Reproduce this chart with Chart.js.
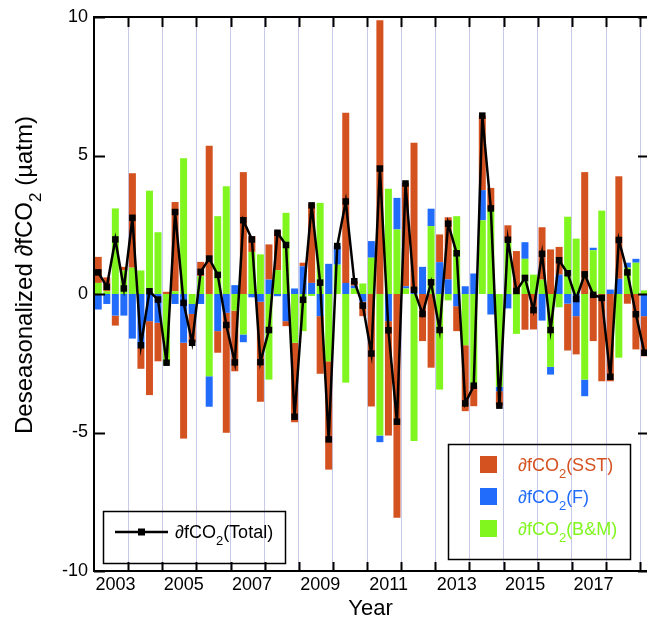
<!DOCTYPE html>
<html>
<head>
<meta charset="utf-8">
<script src="https://cdn.jsdelivr.net/npm/chart.js@4.4.0/dist/chart.umd.min.js"></script>
<style>
  html, body { margin: 0; padding: 0; background: #fff; }
  canvas { display: block; }
</style>
</head>
<body>
<canvas id="chart" width="647" height="625"></canvas>
<script>
// quarter mid-points (decimal year)
const quarters = [
  2002.125, 2002.375, 2002.625, 2002.875,
  2003.125, 2003.375, 2003.625, 2003.875,
  2004.125, 2004.375, 2004.625, 2004.875,
  2005.125, 2005.375, 2005.625, 2005.875,
  2006.125, 2006.375, 2006.625, 2006.875,
  2007.125, 2007.375, 2007.625, 2007.875,
  2008.125, 2008.375, 2008.625, 2008.875,
  2009.125, 2009.375, 2009.625, 2009.875,
  2010.125, 2010.375, 2010.625, 2010.875,
  2011.125, 2011.375, 2011.625, 2011.875,
  2012.125, 2012.375, 2012.625, 2012.875,
  2013.125, 2013.375, 2013.625, 2013.875,
  2014.125, 2014.375, 2014.625, 2014.875,
  2015.125, 2015.375, 2015.625, 2015.875,
  2016.125, 2016.375, 2016.625, 2016.875,
  2017.125, 2017.375, 2017.625, 2017.875,
  2018.125
];

const bioMix = [
  0.40, 0.10, 3.09, 0.85, 0.95, 0.85, 3.73, 2.23,
  -2.56, 0.10, 4.90, -0.36, 0.64, -2.97, 2.81, 3.89,
  -0.60, -1.46, 1.52, 1.43, -3.09, 0.86, 2.93, -1.76,
  -1.34, -0.07, 3.29, -2.43, 1.06, -3.20, 0.20, 0.38,
  1.31, -5.11, 3.80, 2.33, 0.20, -5.31, 0.00, 2.45,
  -3.45, -0.23, 2.81, -1.85, -3.30, 2.66, 3.05, -3.35,
  1.90, -1.44, 1.27, 0.70, 0.52, -2.63, -0.48, 2.79,
  2.00, -3.09, 1.58, 3.01, 0.00, -2.30, 0.95, 1.13,
  0.13
];

const flux = [
  -0.56, -0.36, -0.78, -0.78, -1.61, -1.94, -0.98, -1.04,
  0.00, -0.36, -1.76, -0.36, -0.36, -1.10, -1.34, -0.68,
  0.32, -0.28, -0.12, -0.28, 0.52, -0.08, -0.98, 0.20,
  1.00, 0.40, -0.80, 1.09, 0.67, 0.40, 0.10, -0.28,
  0.60, -0.24, -0.98, 1.14, 0.08, 0.10, 0.98, 0.63,
  1.15, 0.53, -0.44, 0.28, 0.74, 1.09, -0.74, -0.16,
  -0.52, 0.00, 0.60, 0.00, -0.96, -0.28, 0.70, -0.35,
  -0.80, -0.60, 0.09, 0.00, 0.16, 0.55, 0.18, 0.14,
  -0.80
];

const sst = [
  0.94, 0.50, -0.36, 0.13, 3.41, -0.76, -2.67, -1.39,
  0.08, 3.22, -3.46, -1.04, 0.52, 5.35, -0.78, -4.33,
  -2.19, 4.40, 0.57, -3.61, 1.27, 1.43, -0.18, -2.87,
  0.13, 2.87, -2.08, -3.91, 0.00, 6.14, 0.16, -0.52,
  -4.06, 9.88, -4.13, -8.08, 3.73, 5.36, -1.70, -2.66,
  1.00, 2.24, -0.90, -2.38, -0.75, 2.69, 0.78, -0.52,
  0.58, 1.55, -1.29, -1.28, 1.89, 1.61, 1.00, -1.69,
  -1.38, 4.40, -1.70, -3.15, -3.15, 3.70, -0.35, -2.00,
  -1.45
];

const total = [
  0.78, 0.26, 1.97, 0.20, 2.75, -1.85, 0.10, -0.20,
  -2.48, 2.96, -0.32, -1.76, 0.80, 1.28, 0.69, -1.12,
  -2.47, 2.66, 1.97, -2.46, -1.30, 2.21, 1.77, -4.43,
  -0.21, 3.20, 0.41, -5.25, 1.73, 3.34, 0.46, -0.42,
  -2.15, 4.53, -1.31, -4.61, 3.99, 0.15, -0.72, 0.42,
  -1.30, 2.54, 1.47, -3.95, -3.31, 6.44, 3.09, -4.03,
  1.96, 0.11, 0.58, -0.58, 1.45, -1.30, 1.22, 0.75,
  -0.18, 0.71, -0.03, -0.14, -2.99, 1.95, 0.78, -0.73,
  -2.12
];

const yearLabels = [2003, 2005, 2007, 2009, 2011, 2013, 2015, 2017];

const FONT = '"Liberation Sans", Arial, sans-serif';
const C_SST = 'rgb(212, 82, 32)';
const C_F = 'rgb(34, 108, 252)';
const C_BM = 'rgb(128, 246, 30)';

Chart.defaults.font.family = FONT;

const pts = arr => quarters.map((q, i) => ({ x: q, y: arr[i] }));

// draws text with the "₂" as a real subscript
function chemText(ctx, str, x, y, size, color) {
  const parts = str.split('₂');
  ctx.fillStyle = color;
  ctx.textBaseline = 'middle';
  ctx.textAlign = 'left';
  let cx = x;
  parts.forEach((p, i) => {
    ctx.font = size + 'px ' + FONT;
    ctx.fillText(p, cx, y);
    cx += ctx.measureText(p).width;
    if (i < parts.length - 1) {
      ctx.font = Math.round(size * 0.72) + 'px ' + FONT;
      ctx.fillText('2', cx, y + size * 0.48);
      cx += ctx.measureText('2').width;
    }
  });
  return cx - x;
}

function chemWidth(ctx, str, size) {
  const parts = str.split('₂');
  let w = 0;
  parts.forEach((p, i) => {
    ctx.font = size + 'px ' + FONT;
    w += ctx.measureText(p).width;
    if (i < parts.length - 1) {
      ctx.font = Math.round(size * 0.72) + 'px ' + FONT;
      w += ctx.measureText('2').width;
    }
  });
  return w;
}

const frame = {
  id: 'frame',
  afterDatasetsDraw(chart) {
    const { ctx, chartArea: a } = chart;
    const x = chart.scales.x, y = chart.scales.y;
    ctx.save();
    ctx.strokeStyle = '#000';
    ctx.lineWidth = 2;
    // right side of the frame falls just outside the picture
    ctx.strokeRect(a.left, a.top, a.right - a.left + 2, a.bottom - a.top);
    ctx.beginPath();
    x.ticks.forEach(t => {
      if (t.value <= x.min) return;
      const px = Math.round(x.getPixelForValue(t.value)) + 0.5;
      ctx.moveTo(px, a.top); ctx.lineTo(px, a.top + 10);
      ctx.moveTo(px, a.bottom); ctx.lineTo(px, a.bottom - 9);
    });
    y.ticks.forEach(t => {
      const py = Math.round(y.getPixelForValue(t.value)) + 0.5;
      ctx.moveTo(a.left, py); ctx.lineTo(a.left + 11, py);
      ctx.moveTo(a.right, py); ctx.lineTo(a.right - 9, py);
    });
    ctx.stroke();
    ctx.restore();
  },
  afterDraw(chart) {
    const { ctx } = chart;
    const ds = chart.data.datasets;
    ctx.save();

    // y axis title
    const title = 'Deseasonalized ∂fCO₂ (µatm)';
    ctx.save();
    ctx.translate(25, 275);
    ctx.rotate(-Math.PI / 2);
    const tw = chemWidth(ctx, title, 24);
    chemText(ctx, title, -tw / 2, 0, 24, '#000');
    ctx.restore();

    // legend: total line
    ctx.strokeStyle = '#000';
    ctx.lineWidth = 1.5;
    ctx.strokeRect(103.5, 511.5, 182, 52);
    ctx.lineWidth = 2.5;
    ctx.beginPath();
    ctx.moveTo(115, 532); ctx.lineTo(168, 532);
    ctx.stroke();
    ctx.fillStyle = '#000';
    ctx.fillRect(138, 528.5, 7, 7);
    chemText(ctx, ds[3].label, 175, 533, 18, '#000');

    // legend: components
    ctx.lineWidth = 1.5;
    ctx.strokeRect(448.5, 444.5, 182, 115);
    [[2, 465], [1, 497], [0, 529]].forEach(([k, yy]) => {
      ctx.fillStyle = ds[k].backgroundColor;
      ctx.fillRect(480, yy - 9, 17, 17);
      chemText(ctx, ds[k].label, 518, yy + 1, 18, ds[k].backgroundColor);
    });
    ctx.restore();
  }
};

new Chart(document.getElementById('chart'), {
  type: 'bar',
  data: {
    datasets: [
      { label: '∂fCO₂(B&M)', data: pts(bioMix), backgroundColor: C_BM, stack: 'bars', order: 1,
        barPercentage: 0.82, categoryPercentage: 1 },
      { label: '∂fCO₂(F)', data: pts(flux), backgroundColor: C_F, stack: 'bars', order: 1,
        barPercentage: 0.82, categoryPercentage: 1 },
      { label: '∂fCO₂(SST)', data: pts(sst), backgroundColor: C_SST, stack: 'bars', order: 1,
        barPercentage: 0.82, categoryPercentage: 1 },
      { type: 'line', label: '∂fCO₂(Total)', data: pts(total), stack: 'total', order: 0,
        borderColor: '#000', borderWidth: 2.5, tension: 0,
        pointStyle: 'rect', pointRadius: 4.6, pointBackgroundColor: '#000', pointBorderWidth: 0 }
    ]
  },
  options: {
    responsive: false,
    animation: false,
    layout: { autoPadding: false, padding: { top: 17, right: 0, bottom: 0, left: 0 } },
    plugins: { legend: { display: false }, tooltip: { enabled: false } },
    scales: {
      x: {
        type: 'linear', position: 'bottom', min: 2002, max: 2018.2, offset: false,
        ticks: { stepSize: 1, display: false, includeBounds: false },
        grid: { color: 'rgb(200, 200, 232)', lineWidth: 1, drawTicks: false, offset: false },
        border: { display: false },
        afterFit: s => { s.height = 0; }
      },
      xl: {
        type: 'linear', position: 'bottom', min: 2002.37, max: 2018.57, offset: false,
        afterBuildTicks: s => { s.ticks = yearLabels.map(v => ({ value: v })); },
        ticks: { font: { size: 18 }, color: '#000', padding: 3, maxRotation: 0, autoSkip: false,
          callback: v => String(v) },
        grid: { display: false, drawTicks: false },
        border: { display: false },
        title: { display: true, text: 'Year', font: { size: 22 }, color: '#000',
          padding: { top: 0, bottom: 3 } },
        afterFit: s => { s.height = 54; }
      },
      y: {
        stacked: true, min: -10, max: 10,
        ticks: { stepSize: 5, font: { size: 18 }, color: '#000', padding: 6 },
        grid: { display: false, drawTicks: false },
        border: { display: false },
        afterFit: s => { s.width = 94; }
      }
    }
  },
  plugins: [frame]
});
</script>
</body>
</html>
